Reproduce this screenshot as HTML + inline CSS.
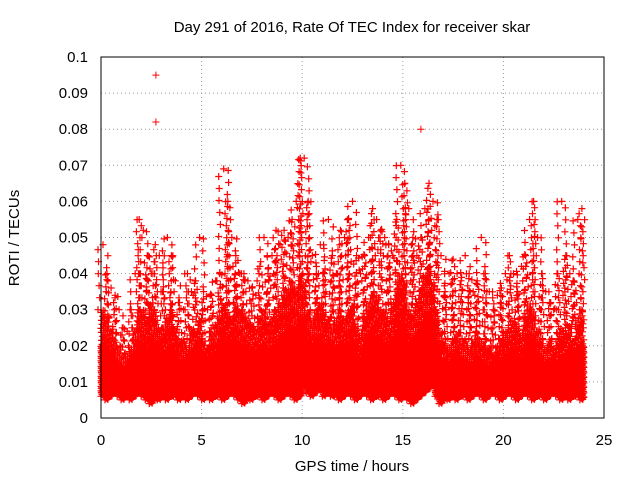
<!DOCTYPE html>
<html><head><meta charset="utf-8"><style>
body{margin:0;background:#fff;}
svg{display:block;font-family:"Liberation Sans",sans-serif;}
</style></head><body>
<svg id="chart" width="640" height="480">
<text x="352" y="32" font-size="15" text-anchor="middle">Day 291 of 2016, Rate Of TEC Index for receiver skar</text>
<text transform="translate(19,238) rotate(-90)" font-size="15" text-anchor="middle">ROTI / TECUs</text>
<text x="352" y="471" font-size="15" text-anchor="middle">GPS time / hours</text>
<g id="grid"></g>
<g id="ticks"></g>
<path id="marks" fill="none" stroke="#f00" stroke-width="1.2"></path>
<path id="spikes" fill="none" stroke="#f00" stroke-width="1"></path>
<rect x="101" y="57" width="503" height="361" fill="none" stroke="#000"></rect>
</svg>
<script>
const xTicks=[0,5,10,15,20,25];
const yTicks=[0,0.01,0.02,0.03,0.04,0.05,0.06,0.07,0.08,0.09,0.1];
const yTickLabels=["0","0.01","0.02","0.03","0.04","0.05","0.06","0.07","0.08","0.09","0.1"];
const binHours=0.2;
const bandLow=[.006,.005,.006,.007,.006,.005,.006,.005,.006,.007,.006,.005,.004,.006,.005,.006,.005,.006,.006,.005,.006,.005,.006,.007,.006,.005,.006,.005,.006,.006,.005,.006,.007,.006,.005,.004,.006,.005,.006,.006,.005,.006,.007,.006,.005,.006,.007,.006,.005,.006,.009,.007,.006,.007,.008,.006,.007,.006,.006,.005,.006,.007,.006,.005,.006,.007,.006,.005,.006,.006,.005,.006,.007,.006,.005,.006,.005,.004,.005,.006,.007,.008,.009,.006,.004,.006,.005,.006,.005,.006,.006,.005,.006,.007,.006,.005,.006,.007,.006,.005,.006,.007,.006,.005,.006,.007,.006,.005,.006,.006,.005,.006,.007,.006,.005,.006,.005,.006,.006,.005];
const bandHigh=[.030,.028,.025,.022,.020,.018,.018,.020,.025,.030,.030,.028,.032,.030,.025,.025,.028,.030,.025,.022,.022,.020,.025,.024,.028,.022,.020,.024,.026,.028,.032,.030,.028,.032,.030,.030,.028,.026,.025,.028,.030,.026,.028,.030,.032,.034,.036,.038,.036,.040,.038,.030,.028,.030,.032,.030,.028,.026,.028,.030,.028,.030,.032,.026,.024,.028,.032,.035,.034,.030,.030,.028,.032,.036,.040,.038,.030,.028,.032,.036,.040,.042,.038,.030,.024,.022,.020,.022,.024,.022,.022,.020,.022,.024,.022,.020,.020,.018,.020,.022,.024,.025,.028,.026,.024,.028,.032,.030,.025,.022,.020,.022,.020,.022,.025,.024,.026,.022,.028,.030];
const peak=[.048,.040,.036,.034,.030,.025,.024,.030,.040,.055,.052,.045,.040,.048,.045,.035,.050,.045,.038,.032,.030,.040,.035,.038,.050,.035,.030,.034,.038,.040,.069,.060,.050,.045,.040,.040,.038,.036,.034,.042,.050,.040,.045,.052,.048,.052,.050,.055,.060,.072,.072,.060,.045,.040,.048,.040,.055,.045,.040,.052,.050,.055,.060,.045,.040,.045,.050,.058,.055,.052,.050,.048,.045,.055,.070,.065,.058,.050,.045,.050,.058,.065,.060,.055,.045,.035,.040,.044,.040,.038,.045,.040,.035,.038,.050,.040,.035,.030,.034,.036,.040,.045,.040,.035,.042,.045,.055,.060,.050,.040,.035,.032,.030,.040,.060,.045,.040,.038,.055,.058];
const spikeX=[2.73,2.73,15.9];
const spikeY=[0.095,0.082,0.080];
const X=h=>101+h/25*503, Y=v=>418-v/0.1*361;
const ns="http://www.w3.org/2000/svg";
const grid=document.getElementById('grid'),ticks=document.getElementById('ticks');
function mk(t,a,p){const e=document.createElementNS(ns,t);for(const k in a)e.setAttribute(k,a[k]);p.appendChild(e);return e;}
xTicks.forEach((t,i)=>{
  if(t>0&&t<25){const l=mk('line',{x1:X(t),x2:X(t),y1:57,y2:418,stroke:'#999','stroke-dasharray':'1,3'},grid);
  
  }
  const s=mk('text',{x:X(t),y:445,'font-size':15,'text-anchor':'middle'},ticks);s.textContent=t;
  
  
});
yTicks.forEach((t,i)=>{
  if(t>0&&t<0.1){const l=mk('line',{x1:101,x2:604,y1:Y(t),y2:Y(t),stroke:'#999','stroke-dasharray':'1,3'},grid);
  
  }
  const s=mk('text',{x:88,y:Y(t)+5,'font-size':15,'text-anchor':'end'},ticks);s.textContent=yTickLabels[i];
  
  
});
function cross(x,y){return `M${(x-3.5).toFixed(1)},${y.toFixed(1)}h7M${x.toFixed(1)},${(y-3.5).toFixed(1)}v7`;}
const jit=[0,2.6,1.1,3.5,0.5,2.9,1.7,3.9,0.3,2.2];
let d='';
for(let i=0;i<bandHigh.length;i++){
  const x0=X(i*binHours),w=X((i+1)*binHours)-x0;
  const yl=Y(bandLow[i]),yh=Y(bandHigh[i]),yp=Y(peak[i]);
  const ym=Y(bandLow[i]+(bandHigh[i]-bandLow[i])*0.6);
  let r=0;
  for(let y=yl;y>=ym;y-=1,r++){d+=cross(x0+jit[r%10]*w/4,y);d+=cross(x0+jit[(r+5)%10]*w/4,y-0.5);}
  for(let y=ym;y>=yh;y-=2,r++){d+=cross(x0+jit[(r+i)%10]*w/4,y);}
  for(let y=yh;y>=yp;y-=6,r++){d+=cross(x0+jit[(r*3+i)%10]*w/4+(r%2?3:-3),y);}
  d+=cross(x0+w/2,yp);
}
document.getElementById('marks').setAttribute('d',d);
let s='';
spikeX.forEach((h,i)=>{s+=cross(X(h),Y(spikeY[i]));});
document.getElementById('spikes').setAttribute('d',s);
</script>
</body></html>
